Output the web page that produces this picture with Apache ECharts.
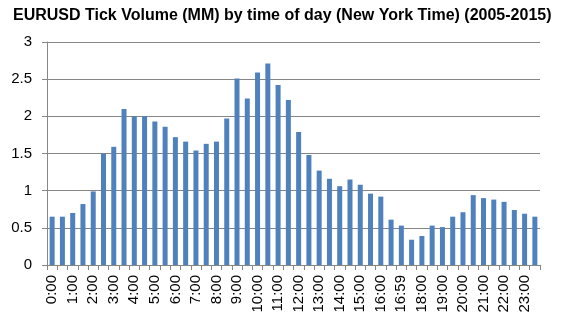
<!DOCTYPE html>
<html>
<head>
<meta charset="utf-8">
<script src="https://cdn.jsdelivr.net/npm/echarts@6/dist/echarts.min.js"></script>
<style>html,body{margin:0;padding:0;background:#fff;}#c{width:562px;height:328px;}</style>
</head>
<body>
<div id="c"></div>
<script>
const titleText = "EURUSD Tick Volume (MM) by time of day (New York Time) (2005-2015)";
const categories = [
  "0:00","0:30","1:00","1:30","2:00","2:30","3:00","3:30","4:00","4:30","5:00","5:30",
  "6:00","6:30","7:00","7:30","8:00","8:30","9:00","9:30","10:00","10:30","11:00","11:30",
  "12:00","12:30","13:00","13:30","14:00","14:30","15:00","15:30","16:00","16:30","16:59","17:30",
  "18:00","18:30","19:00","19:30","20:00","20:30","21:00","21:30","22:00","22:30","23:00","23:30"
];
const volumes = [
  0.65,0.65,0.70,0.82,0.99,1.50,1.59,2.10,2.00,2.00,1.93,1.86,
  1.72,1.66,1.54,1.63,1.66,1.97,2.51,2.24,2.59,2.71,2.42,2.22,
  1.79,1.48,1.27,1.16,1.06,1.15,1.08,0.96,0.92,0.61,0.53,0.34,
  0.39,0.53,0.51,0.65,0.71,0.94,0.90,0.88,0.85,0.74,0.69,0.65
];
const yTicks = [0, 0.5, 1, 1.5, 2, 2.5, 3];

const chart = echarts.init(document.getElementById('c'), null, {renderer: 'canvas'});
const font = '"Liberation Sans", Arial, sans-serif';
chart.setOption({
  animation: false,
  backgroundColor: '#ffffff',
  title: {
    text: titleText,
    left: 8, top: 3,
    textStyle: {fontFamily: font, fontWeight: 'bold', fontSize: 16, color: '#000'}
  },
  grid: {left: 47, right: 22, top: 42, bottom: 63, containLabel: false},
  xAxis: {
    type: 'category',
    data: categories,
    boundaryGap: true,
    axisLine: {lineStyle: {color: '#868686', width: 1}},
    axisTick: {show: true, interval: 0, length: 5, lineStyle: {color: '#868686'}},
    axisLabel: {
      interval: 1, rotate: 90, margin: 10,
      fontFamily: font, fontSize: 15, color: '#000'
    },
    splitLine: {show: false}
  },
  yAxis: {
    type: 'value',
    min: yTicks[0], max: yTicks[yTicks.length - 1], interval: 0.5,
    axisLine: {show: true, lineStyle: {color: '#868686', width: 1}},
    axisTick: {show: true, length: 5, lineStyle: {color: '#868686'}},
    axisLabel: {fontFamily: font, fontSize: 15, color: '#000', margin: 15,
      formatter: v => String(v)},
    splitLine: {show: true, lineStyle: {color: '#868686', width: 1}}
  },
  series: [{
    type: 'bar',
    data: volumes,
    barWidth: 5,
    itemStyle: {color: '#4F81BD'}
  }]
});
</script>
</body>
</html>
